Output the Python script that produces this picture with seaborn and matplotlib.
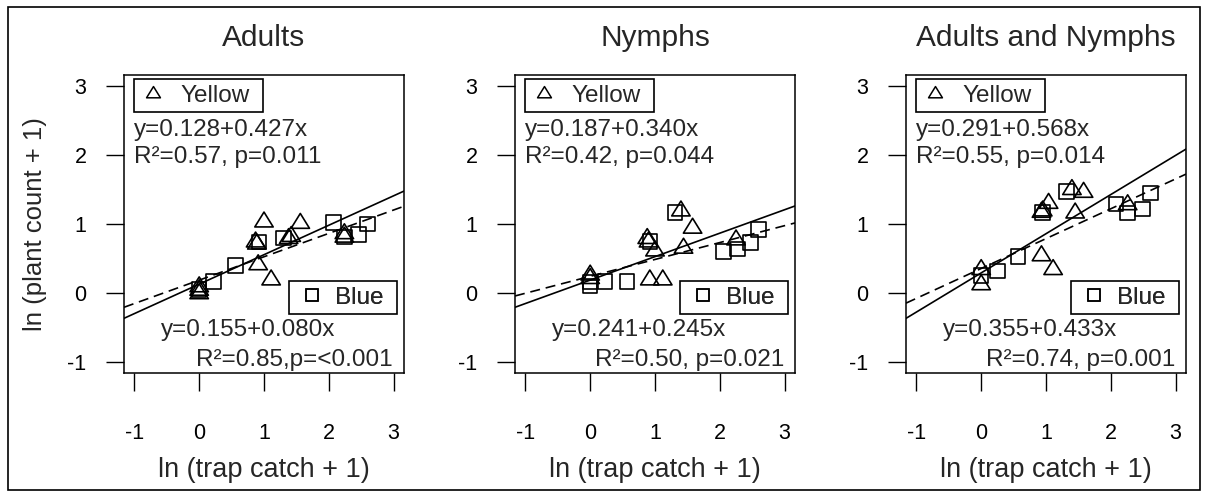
import matplotlib
matplotlib.use("Agg")
import matplotlib.pyplot as plt
from matplotlib.path import Path
from matplotlib.lines import Line2D
from matplotlib.patches import Rectangle
import pandas as pd
import seaborn as sns

# ---- data: ln(trap catch + 1) vs ln(plant count + 1) ----
panel_titles = ["Adults", "Nymphs", "Adults and Nymphs"]

yellow_x_adults = [0, 0, 0, 0.87, 0.89, 0.91, 1.00, 1.11, 1.38, 1.42, 1.56, 2.24, 2.24]
yellow_y_adults = [0.00, 0.05, 0.10, 0.75, 0.72, 0.42, 1.04, 0.20, 0.80, 0.83, 1.02, 0.87, 0.82]
blue_x_adults = [0, 0.22, 0.56, 0.92, 1.30, 2.07, 2.24, 2.46, 2.60]
blue_y_adults = [0.05, 0.17, 0.40, 0.74, 0.80, 1.02, 0.81, 0.85, 1.00]

yellow_x_nymphs = [0, 0, 0.88, 0.90, 0.92, 1.00, 1.12, 1.40, 1.44, 1.58, 2.25]
yellow_y_nymphs = [0.27, 0.22, 0.80, 0.75, 0.20, 0.62, 0.20, 1.20, 0.66, 0.95, 0.78]
blue_x_nymphs = [0, 0, 0.23, 0.57, 0.92, 1.31, 2.06, 2.27, 2.47, 2.60]
blue_y_nymphs = [0.16, 0.10, 0.17, 0.17, 0.75, 1.17, 0.60, 0.64, 0.73, 0.92]

yellow_x_both = [0, 0, 0.93, 0.95, 0.93, 1.04, 1.11, 1.40, 1.45, 1.58, 2.26]
yellow_y_both = [0.35, 0.13, 1.18, 1.20, 0.55, 1.31, 0.35, 1.51, 1.17, 1.47, 1.29]
blue_x_both = [0, 0.25, 0.57, 0.95, 1.32, 2.08, 2.26, 2.49, 2.61]
blue_y_both = [0.25, 0.32, 0.53, 1.17, 1.47, 1.29, 1.16, 1.22, 1.45]

yellow_x = [yellow_x_adults, yellow_x_nymphs, yellow_x_both]
yellow_y = [yellow_y_adults, yellow_y_nymphs, yellow_y_both]
blue_x = [blue_x_adults, blue_x_nymphs, blue_x_both]
blue_y = [blue_y_adults, blue_y_nymphs, blue_y_both]

# regression lines (Yellow solid, Blue dashed)
yellow_intercept = [0.128, 0.187, 0.291]
yellow_slope = [0.427, 0.340, 0.568]
blue_intercept = [0.186, 0.241, 0.355]
blue_slope = [0.339, 0.245, 0.433]

yellow_eq = ["y=0.128+0.427x", "y=0.187+0.340x", "y=0.291+0.568x"]
yellow_stats = ["R²=0.57, p=0.011", "R²=0.42, p=0.044", "R²=0.55, p=0.014"]
blue_eq = ["y=0.155+0.080x", "y=0.241+0.245x", "y=0.355+0.433x"]
blue_stats = ["R²=0.85,p=<0.001", "R²=0.50, p=0.021", "R²=0.74, p=0.001"]

tick_values = [-1, 0, 1, 2, 3]
x_label = "ln (trap catch + 1)"
y_label = "ln (plant count + 1)"

# ---- style ----
sns.set_style("ticks")
plt.rcParams["font.family"] = ["Liberation Sans", "DejaVu Sans"]

tri = Path([(-1, -0.62), (1, -0.62), (0, 1.0), (-1, -0.62)],
           [Path.MOVETO, Path.LINETO, Path.LINETO, Path.CLOSEPOLY])

W, H = 1208, 497
fig = plt.figure(figsize=(W / 100, H / 100), dpi=100)
fig.patches.append(Rectangle((8 / W, 7 / H), 1192 / W, 483 / H,
                             transform=fig.transFigure, fill=False,
                             ec="black", lw=1.2))

text_size = 17.5


def key_box(ax, handle, label, frame, anchor, textpad):
    """Boxed legend key: a frame rectangle with marker + label inside."""
    ax.add_patch(Rectangle(frame[:2], frame[2], frame[3],
                           transform=ax.transAxes, fill=False,
                           ec="black", lw=1.2, zorder=4))
    leg = ax.legend([handle], [label], loc="center left",
                    bbox_to_anchor=anchor, borderaxespad=0, borderpad=0,
                    frameon=False, fontsize=text_size, handlelength=1.0,
                    handletextpad=textpad)
    ax.add_artist(leg)


lefts = [124, 515, 906]
for i, left in enumerate(lefts):
    ax = fig.add_axes([left / W, (H - 373) / H, 280 / W, 298 / H])
    ax.set_xlim(-1.16, 3.16)
    ax.set_ylim(-1.16, 3.16)

    df = pd.concat([
        pd.DataFrame({"x": yellow_x[i], "y": yellow_y[i], "trap": "Yellow"}),
        pd.DataFrame({"x": blue_x[i], "y": blue_y[i], "trap": "Blue"}),
    ])
    sns.scatterplot(data=df[df.trap == "Yellow"], x="x", y="y", marker=tri,
                    s=175, facecolors="none", edgecolors="black",
                    linewidths=1.2, legend=False, ax=ax, zorder=3)
    sns.scatterplot(data=df[df.trap == "Blue"], x="x", y="y", marker="s",
                    s=110, facecolors="none", edgecolors="black",
                    linewidths=1.2, legend=False, ax=ax, zorder=3)

    ax.axline((0, yellow_intercept[i]), slope=yellow_slope[i],
              color="black", lw=1.2)
    ax.axline((0, blue_intercept[i]), slope=blue_slope[i],
              color="black", lw=1.2, ls=(0, (6, 3.5)))

    ax.set_xticks(tick_values)
    ax.set_yticks(tick_values)
    ax.set_xticklabels([str(v) for v in tick_values])
    ax.set_yticklabels([str(v) for v in tick_values])
    ax.tick_params(axis="both", direction="out", length=13, width=1,
                   colors="black", labelsize=15.5)
    ax.tick_params(axis="x", pad=23)
    ax.tick_params(axis="y", pad=14)
    for sp in ax.spines.values():
        sp.set_visible(True)
        sp.set_color("black")
        sp.set_linewidth(1.1)

    ax.set_xlabel(x_label, fontsize=19.5)
    ax.xaxis.set_label_coords(0.5, -0.326)
    ax.xaxis.label.set_va("center")
    if i == 0:
        ax.set_ylabel(y_label, fontsize=18.5)
        ax.yaxis.set_label_coords(-0.318, 0.5)
        ax.yaxis.label.set_va("center")
    else:
        ax.set_ylabel("")

    ax.text(0.5, 1.124, panel_titles[i], transform=ax.transAxes,
            ha="center", va="center", fontsize=21.5)

    hy = Line2D([], [], marker=tri, ls="none", mfc="none", mec="black",
                ms=10, mew=1.1)
    hb = Line2D([], [], marker="s", ls="none", mfc="none", mec="black",
                ms=8, mew=1.1)
    key_box(ax, hy, "Yellow", (0.036, 0.876, 0.461, 0.111),
            (0.061, 0.931), 0.62)
    key_box(ax, hb, "Blue", (0.589, 0.198, 0.386, 0.111),
            (0.629, 0.253), 0.45)

    ax.text(0.036, 0.815, yellow_eq[i], transform=ax.transAxes,
            ha="left", va="center", fontsize=text_size)
    ax.text(0.036, 0.725, yellow_stats[i], transform=ax.transAxes,
            ha="left", va="center", fontsize=text_size)
    ax.text(0.132, 0.144, blue_eq[i], transform=ax.transAxes,
            ha="left", va="center", fontsize=text_size)
    ax.text(0.961, 0.044, blue_stats[i], transform=ax.transAxes,
            ha="right", va="center", fontsize=text_size)

fig.savefig("out.png", dpi=100)
